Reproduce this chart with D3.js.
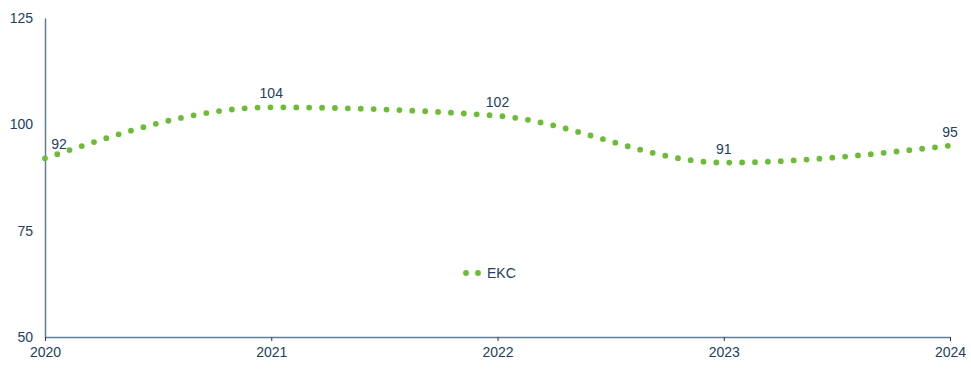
<!DOCTYPE html>
<html>
<head>
<meta charset="utf-8">
<script src="https://cdn.jsdelivr.net/npm/d3@7/dist/d3.min.js"></script>
<style>
  html, body { margin: 0; padding: 0; background: #fff; }
  svg text { font-family: "Liberation Sans", Arial, sans-serif; }
</style>
</head>
<body>
<svg id="chart" width="971" height="372"></svg>
<script>
// данные графика
var years = [2020, 2021, 2022, 2023, 2024];
var ekc = [92, 104, 102, 91, 95];
var yTicks = [50, 75, 100, 125];
var seriesName = 'EKC';

var textColor = '#23405f';
var axisColor = '#5f7f99';
var green = '#6cbd35';

var svg = d3.select('#chart');
var margin = {left: 45, right: 21, top: 18, bottom: 35};
var width = 971, height = 372;

var x = d3.scaleLinear().domain([2020, 2024]).range([margin.left, width - margin.right]);
var y = d3.scaleLinear().domain([50, 125]).range([height - margin.bottom, margin.top]);

// ось Y
var yAxis = svg.append('g')
    .attr('transform', 'translate(' + margin.left + ',0)')
    .call(d3.axisLeft(y).tickValues(yTicks).tickSize(0).tickPadding(12));
yAxis.select('.domain').attr('stroke', axisColor).attr('stroke-width', 1.5);
yAxis.selectAll('text').attr('fill', textColor).attr('font-size', '14px');

// ось X
var xAxis = svg.append('g')
    .attr('transform', 'translate(0,' + (height - margin.bottom) + ')')
    .call(d3.axisBottom(x).tickValues(years).tickFormat(d3.format('d')).tickSize(4).tickSizeOuter(0).tickPadding(6));
xAxis.select('.domain').attr('stroke', axisColor).attr('stroke-width', 1.5);
xAxis.selectAll('.tick line').attr('stroke', '#333');
xAxis.selectAll('text').attr('fill', textColor).attr('font-size', '14px');

// линия
var data = years.map(function(yr, i) { return {year: yr, v: ekc[i]}; });
var line = d3.line()
    .x(function(d) { return x(d.year); })
    .y(function(d) { return y(d.v); })
    .curve(d3.curveMonotoneX);

svg.append('path')
    .datum(data)
    .attr('d', line)
    .attr('fill', 'none')
    .attr('stroke', green)
    .attr('stroke-width', 5.8)
    .attr('stroke-linecap', 'round')
    .attr('stroke-dasharray', '0 12.9');

// подписи значений
svg.append('g').selectAll('text')
    .data(data).enter().append('text')
    .attr('x', function(d, i) { return x(d.year) + (i === 0 ? 14 : 0); })
    .attr('y', function(d) { return y(d.v) - 9; })
    .attr('text-anchor', 'middle')
    .attr('fill', textColor)
    .attr('font-size', '14px')
    .text(function(d) { return d.v; });

// легенда
var lg = svg.append('g').attr('transform', 'translate(466,273)');
lg.selectAll('circle')
    .data([0, 12]).enter().append('circle')
    .attr('cx', function(d) { return d; })
    .attr('cy', 0)
    .attr('r', 2.9)
    .attr('fill', green);
lg.append('text')
    .attr('x', 21).attr('y', 5)
    .attr('fill', textColor).attr('font-size', '14px')
    .text(seriesName);
</script>
</body>
</html>
